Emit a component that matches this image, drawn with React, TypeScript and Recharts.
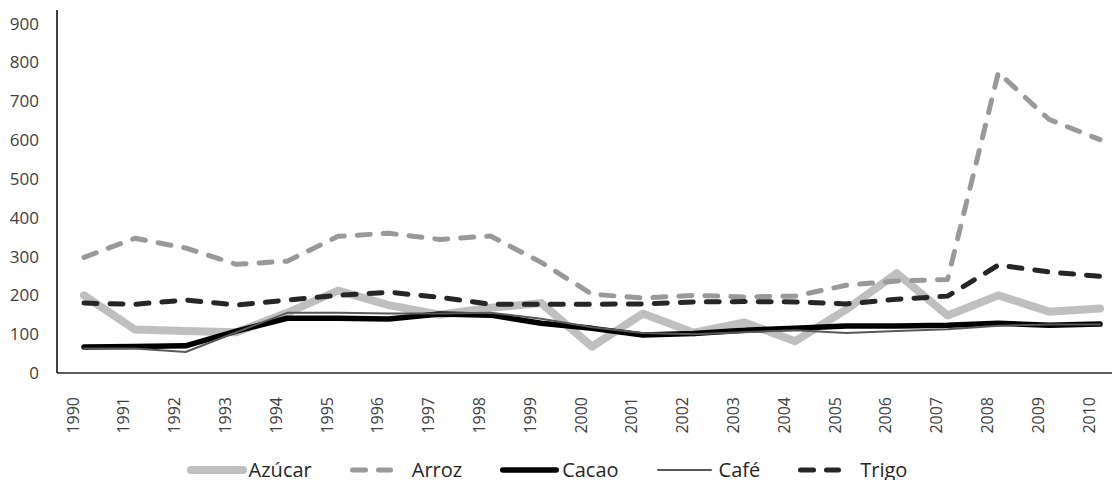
import React from 'react';
import { LineChart, Line, XAxis, YAxis, Legend } from 'recharts';

const years = ['1990', '1991', '1992', '1993', '1994', '1995', '1996', '1997', '1998', '1999', '2000',
  '2001', '2002', '2003', '2004', '2005', '2006', '2007', '2008', '2009', '2010'];
const azucar = [200, 112, 108, 105, 155, 212, 175, 150, 168, 180, 68, 153, 104, 130, 82, 163, 257, 148, 200, 158, 166];
const arroz = [298, 347, 322, 280, 288, 352, 360, 344, 353, 285, 203, 193, 200, 196, 198, 226, 237, 241, 774, 653, 601];
const cacao = [67, 68, 70, 108, 141, 141, 139, 152, 149, 128, 115, 98, 102, 110, 115, 121, 121, 123, 128, 123, 126];
const cafe = [63, 63, 54, 105, 155, 155, 153, 153, 155, 140, 118, 103, 100, 105, 110, 103, 108, 113, 122, 125, 125];
const trigo = [180, 177, 188, 175, 188, 200, 208, 195, 177, 177, 177, 178, 183, 184, 183, 178, 190, 198, 278, 260, 249];
const yTicks = [0, 100, 200, 300, 400, 500, 600, 700, 800, 900];

const data = years.map((year, i) => ({
  year,
  azucar: azucar[i],
  arroz: arroz[i],
  cacao: cacao[i],
  cafe: cafe[i],
  trigo: trigo[i],
}));

const SERIES = [
  { key: 'azucar', name: 'Azúcar', color: '#bfbfbf', width: 8, dash: undefined, swatch: 60 },
  { key: 'arroz', name: 'Arroz', color: '#999999', width: 5, dash: '13 13', swatch: 43 },
  { key: 'cacao', name: 'Cacao', color: '#000000', width: 5.5, dash: undefined, swatch: 59 },
  { key: 'cafe', name: 'Café', color: '#595959', width: 2, dash: undefined, swatch: 55 },
  { key: 'trigo', name: 'Trigo', color: '#262626', width: 5, dash: '13 13', swatch: 43 },
];

const FONT = '"Open Sans", sans-serif';

const YearTick = (props: any) => {
  const { x, y, payload } = props;
  const tx = x - 11;
  const ty = y + 24;
  return (
    <text x={tx} y={ty} transform={`rotate(-90, ${tx}, ${ty})`} textAnchor="end" dy="0.35em"
      fill="#404040" fontSize={16} fontFamily={FONT}>
      {payload.value}
    </text>
  );
};

const LegendContent = () => (
  <div style={{
    display: 'flex', justifyContent: 'center', alignItems: 'center', height: 40, paddingTop: 20,
    paddingRight: 18, boxSizing: 'border-box', fontFamily: FONT, fontSize: 20, color: '#262626', gap: 38,
  }}>
    {SERIES.map((s) => (
      <div key={s.key} style={{ display: 'flex', alignItems: 'center' }}>
        <svg width={60} height={12} style={{ display: 'block' }}>
          <line x1={s.width / 2} y1={6} x2={s.swatch - s.width / 2} y2={6} stroke={s.color}
            strokeWidth={s.width} strokeDasharray={s.dash} strokeLinecap="round" />
        </svg>
        <span style={{ marginLeft: 2, lineHeight: '20px' }}>{s.name}</span>
      </div>
    ))}
  </div>
);

export default function App() {
  return (
    <div style={{ position: 'absolute', left: 0, top: 0, background: '#fff' }}>
      <LineChart width={1112} height={480} data={data} margin={{ top: 10, right: 0, bottom: 0, left: 0 }}>
        <XAxis dataKey="year" tick={<YearTick />} tickLine={false} tickSize={0} tickMargin={0} height={67}
          padding={{ left: 27, right: 12 }} axisLine={{ stroke: '#262626', strokeWidth: 1.5 }} interval={0} />
        <YAxis domain={[0, 935]} ticks={yTicks} width={57} tickLine={false} tickSize={0} tickMargin={18}
          axisLine={{ stroke: '#000', strokeWidth: 1.5 }} allowDataOverflow
          tick={{ fill: '#404040', fontSize: 17, fontFamily: FONT }} />
        <Legend verticalAlign="bottom" content={<LegendContent />} wrapperStyle={{ left: 0, width: 1112, bottom: 0 }} />
        {SERIES.map((s) => (
          <Line key={s.key} type="linear" dataKey={s.key} name={s.name} stroke={s.color} strokeWidth={s.width}
            strokeDasharray={s.dash} strokeLinecap="round" strokeLinejoin="round" dot={false}
            activeDot={false} isAnimationActive={false} />
        ))}
      </LineChart>
    </div>
  );
}
